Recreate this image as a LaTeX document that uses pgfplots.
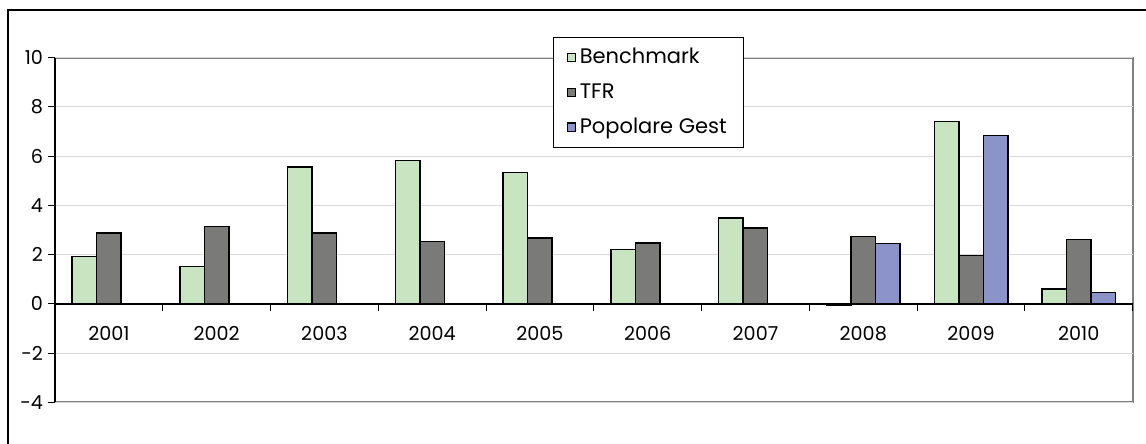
\documentclass[border=0pt]{standalone}
\usepackage{pgfplots}
\pgfplotsset{compat=1.18}
\usepackage{fontspec}
\setmainfont{Poppins}
\definecolor{bench}{RGB}{200,228,192}
\definecolor{tfr}{RGB}{122,122,120}
\definecolor{pop}{RGB}{139,147,200}
\definecolor{gridc}{RGB}{217,217,217}
\definecolor{framec}{RGB}{128,128,128}
\begin{document}
\fontsize{11.5}{13}\selectfont
\begin{tikzpicture}
\useasboundingbox (0,0) rectangle (687.6pt,265.8pt);
\draw[line width=1.2pt,black] (4.8pt,-2pt) -- (4.8pt,259.8pt) -- (690pt,259.8pt);
\draw[draw=framec, line width=1.3pt] (33pt,231.18pt) -- (679.6pt,231.18pt) -- (679.6pt,24.42pt) -- (33pt,24.42pt);
\begin{axis}[
  name=ax,
  at={(33pt,24.42pt)}, anchor=south west,
  scale only axis, width=646.6pt, height=206.76pt,
  xmin=0.5, xmax=10.5, ymin=-4, ymax=10,
  axis x line=middle, axis y line=left,
  axis line style={-, black, line width=0.8pt},
  xtick={1,...,10},
  xticklabels={2001,2002,2003,2004,2005,2006,2007,2008,2009,2010},
  x tick style={draw=none},
  xticklabel style={yshift=-5pt},
  ytick={-4,-2,0,2,4,6,8,10},
  yticklabels={-4,-2,0,2,4,6,8,10},
  yticklabel style={xshift=1pt},
  y tick style={black, line width=0.6pt},
  ytick align=outside, major tick length=4.2pt,
  ymajorgrids, grid style={gridc, line width=0.6pt},
  ybar=0pt, bar width=14.7pt,
  every axis plot/.append style={draw=black, line width=0.9pt},
  legend style={at={(0.462,1.060)}, anchor=north west, draw=black, line width=0.5pt, fill=white,
    inner xsep=8pt, inner ysep=4.5pt, row sep=6.2pt, font=\fontsize{12.6}{14}\selectfont,
    legend cell align=left},
  legend image code/.code={\draw[#1,draw=black,line width=0.7pt] (0pt,-2.6pt) rectangle (5.2pt,2.6pt);},
  clip=false,
]
\addplot[fill=bench] coordinates {(1,1.92) (2,1.51) (3,5.55) (4,5.82) (5,5.34) (6,2.20) (7,3.48) (8,-0.07) (9,7.40) (10,0.61)};
\addplot[fill=tfr] coordinates {(1,2.87) (2,3.15) (3,2.87) (4,2.53) (5,2.67) (6,2.47) (7,3.08) (8,2.73) (9,1.97) (10,2.61)};
\addplot[fill=pop] coordinates {(8,2.46) (9,6.84) (10,0.46)};
\legend{Benchmark,TFR,Popolare Gest}
\draw[black, line width=0.8pt] (axis cs:0.5,0) -- (axis cs:10.5,0);
\draw[black, line width=0.6pt] (axis cs:1.5,0) -- (axis cs:1.5,-0.28);
\draw[black, line width=0.6pt] (axis cs:2.5,0) -- (axis cs:2.5,-0.28);
\draw[black, line width=0.6pt] (axis cs:3.5,0) -- (axis cs:3.5,-0.28);
\draw[black, line width=0.6pt] (axis cs:4.5,0) -- (axis cs:4.5,-0.28);
\draw[black, line width=0.6pt] (axis cs:5.5,0) -- (axis cs:5.5,-0.28);
\draw[black, line width=0.6pt] (axis cs:6.5,0) -- (axis cs:6.5,-0.28);
\draw[black, line width=0.6pt] (axis cs:7.5,0) -- (axis cs:7.5,-0.28);
\draw[black, line width=0.6pt] (axis cs:8.5,0) -- (axis cs:8.5,-0.28);
\draw[black, line width=0.6pt] (axis cs:9.5,0) -- (axis cs:9.5,-0.28);
\draw[black, line width=0.6pt] (axis cs:10.5,0) -- (axis cs:10.5,-0.28);
\end{axis}
\draw[black, line width=0.8pt] (33pt,24.42pt) -- (33pt,231.18pt);
\end{tikzpicture}
\end{document}
